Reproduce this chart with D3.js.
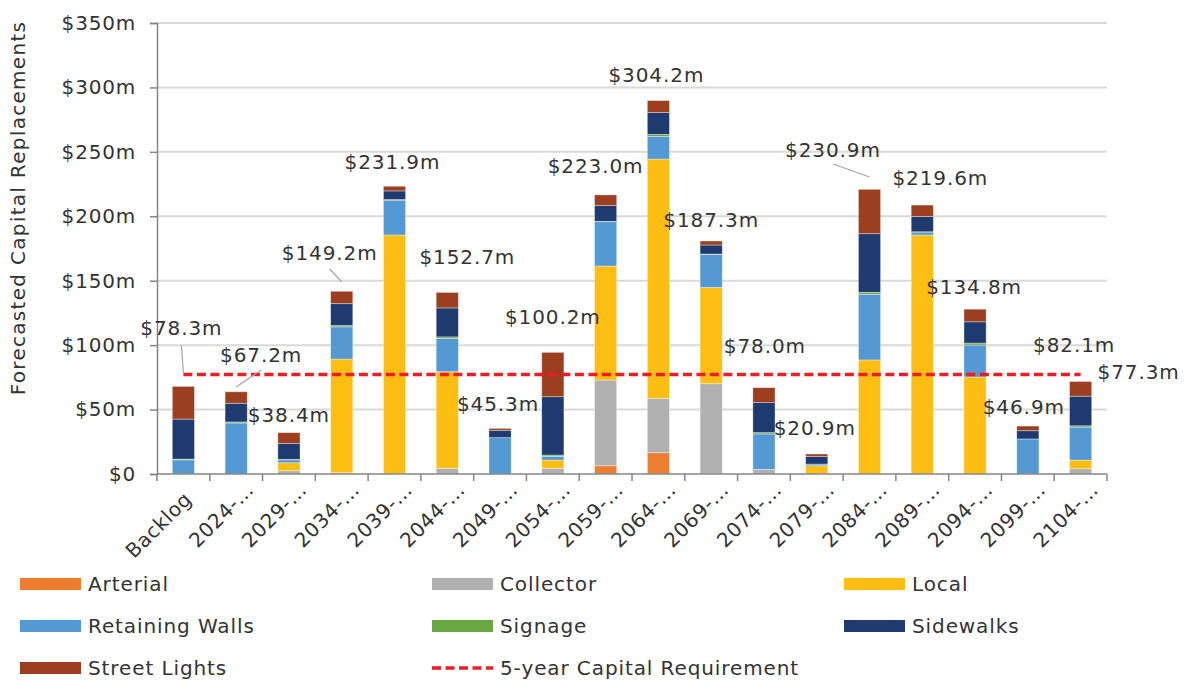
<!DOCTYPE html>
<html>
<head>
<meta charset="utf-8">
<script src="https://cdn.jsdelivr.net/npm/d3@7"></script>
<style>
  body { margin: 0; background: #fff; }
  text { font-family: "DejaVu Sans", Verdana, sans-serif; fill: #333; }
</style>
</head>
<body>
<svg id="chart" width="1187" height="684"></svg>
<script>
// categories (5-year periods)
var categories = ["Backlog", "2024-\u2026", "2029-\u2026", "2034-\u2026", "2039-\u2026", "2044-\u2026",
  "2049-\u2026", "2054-\u2026", "2059-\u2026", "2064-\u2026", "2069-\u2026", "2074-\u2026",
  "2079-\u2026", "2084-\u2026", "2089-\u2026", "2094-\u2026", "2099-\u2026", "2104-\u2026"];

// series values, $m
var arterial     = [0, 0, 0, 0, 0, 0, 0, 0, 6.4, 16.5, 0.5, 0, 0, 0, 0, 0, 0, 0];
var collector    = [0, 0, 2.5, 1, 0, 4.4, 0, 4.4, 66.5, 42.2, 69.6, 3.6, 0, 0, 0, 0, 0, 4.1];
var local        = [0, 0, 6.2, 88.2, 185.5, 75, 0, 6.4, 88.5, 185.7, 74.7, 0, 6.4, 88.5, 185.5, 75.3, 0, 6.7];
var retaining    = [11, 39.6, 2.3, 25, 27, 25.8, 28.2, 2.9, 34.4, 17.6, 25.6, 27.5, 1.3, 51, 2.3, 24.8, 27.2, 25.6];
var signage      = [0.6, 0.8, 0.4, 1, 0.5, 1.2, 0, 1, 0.3, 1.5, 0.3, 1, 0, 1.5, 0.2, 1.5, 0, 1];
var sidewalks    = [31, 14.5, 12.2, 17, 6.7, 22.5, 5.7, 45.3, 12.2, 17, 7, 23.3, 6, 45.5, 11.9, 16.5, 6.4, 23];
var streetLights = [25.4, 8.9, 8.5, 9.6, 3.6, 12, 1.5, 34.4, 8.3, 9.3, 3.1, 11.6, 1.8, 34.4, 8.8, 9.8, 3.6, 11.4];

// 5-year capital requirement
var requirement = 77.3;

// total labels shown above the bars
var totalLabels = [78.3, 67.2, 38.4, 149.2, 231.9, 152.7, 45.3, 100.2, 223.0, 304.2, 187.3, 78.0, 20.9, 230.9, 219.6, 134.8, 46.9, 82.1];

var yTicks = [0, 50, 100, 150, 200, 250, 300, 350];

var seriesNames  = ["Arterial", "Collector", "Local", "Retaining Walls", "Signage", "Sidewalks", "Street Lights"];
var seriesColors = ["#ED7D31", "#B0B0B0", "#FDBE14", "#5599D4", "#6AA843", "#1F3A6E", "#9B3F20"];
var seriesData   = [arterial, collector, local, retaining, signage, sidewalks, streetLights];

// label placement: [dx px from category centre, y in $m]
var labelPos = [[-2, 113.3], [25, 92.3], [0, 45.8], [-12, 171.5], [-2, 242.1], [20, 168.4],
  [-2, 54.3], [0, 122.2], [-10, 239], [-2, 309.6], [0, 197.1], [1, 99.3],
  [-2, 35.7], [-36.5, 251.8], [18, 229.7], [-1, 145.1], [-4, 52], [-6.5, 100.5]];
// leader lines: [category, dx1, v1, dx2, v2]
var leaders = [[0, -2, 100.1, 0, 78.4], [1, 25, 80.7, 0, 67.5], [3, -12, 159.1, 0, 149], [13, -36.5, 240.6, 0, 230.5]];

var margin = {top: 23, right: 80, bottom: 210, left: 157};
var svg = d3.select("#chart");
var width = +svg.attr("width") - margin.left - margin.right;
var height = +svg.attr("height") - margin.top - margin.bottom;
var g = svg.append("g").attr("transform", "translate(" + margin.left + "," + margin.top + ")");

var x = d3.scaleBand().domain(categories).range([0, width]).paddingInner(0.58).paddingOuter(0.29);
var xb = d3.scaleBand().domain(categories).range([0, width]);
var y = d3.scaleLinear().domain([0, 350]).range([height, 0]);

function cx(i) { return xb(categories[i]) + xb.bandwidth() / 2; }

// gridlines
g.selectAll(".grid").data(yTicks.slice(1)).enter().append("line")
  .attr("x1", 0).attr("x2", width)
  .attr("y1", function(d) { return y(d); }).attr("y2", function(d) { return y(d); })
  .attr("stroke", "#D9D9D9").attr("stroke-width", 2);

// stacked bars
var rows = categories.map(function(c, i) {
  var r = {cat: c};
  seriesNames.forEach(function(s, k) { r[s] = seriesData[k][i]; });
  return r;
});
var stacked = d3.stack().keys(seriesNames)(rows);

g.selectAll(".series").data(stacked).enter().append("g")
  .attr("fill", function(d, k) { return seriesColors[k]; })
  .selectAll("rect").data(function(d) { return d; }).enter().append("rect")
  .attr("x", function(d) { return x(d.data.cat); })
  .attr("width", x.bandwidth())
  .attr("y", function(d) { return y(d[1]); })
  .attr("height", function(d) { return Math.max(0, y(d[0]) - y(d[1])); })
  .attr("stroke", "#fff").attr("stroke-opacity", 0.45).attr("stroke-width", 0.8);

// y axis
var yAxis = d3.axisLeft(y).tickValues(yTicks).tickSize(7).tickPadding(14)
  .tickFormat(function(d) { return d === 0 ? "$0" : "$" + d + "m"; });
var ya = g.append("g").call(yAxis);
ya.select(".domain").attr("stroke", "#868686").attr("stroke-width", 1.5);
ya.selectAll(".tick line").attr("stroke", "#868686").attr("stroke-width", 1.5);
ya.selectAll(".tick text").style("font-size", "20px").style("letter-spacing", "0.8px").attr("fill", "#333");

// x axis (ticks at category boundaries)
var xa = g.append("g").attr("transform", "translate(0," + height + ")");
xa.append("line").attr("x1", 0).attr("x2", width).attr("stroke", "#868686").attr("stroke-width", 1.5);
xa.selectAll(".xt").data(d3.range(categories.length + 1)).enter().append("line")
  .attr("x1", function(i) { return i * xb.step(); }).attr("x2", function(i) { return i * xb.step(); })
  .attr("y1", 0).attr("y2", 7).attr("stroke", "#868686").attr("stroke-width", 1.5);
xa.selectAll(".xl").data(categories).enter().append("text")
  .attr("transform", function(d, i) {
    // full (untruncated) labels sit a little further back along the text direction
    var back = d.indexOf("\u2026") < 0 ? 9.5 : 0;
    return "translate(" + (cx(i) + 19 - back) + "," + (17 + back) + ") rotate(-45)";
  })
  .attr("text-anchor", "end")
  .style("font-size", "20px").style("letter-spacing", "0.6px")
  .text(function(d) { return d; });

// 5-year requirement line
g.append("line")
  .attr("x1", cx(0)).attr("x2", cx(categories.length - 1))
  .attr("y1", y(requirement)).attr("y2", y(requirement))
  .attr("stroke", "#EE1C25").attr("stroke-width", 3.5).attr("stroke-dasharray", "9,4.5");

// leader lines
g.selectAll(".leader").data(leaders).enter().append("line")
  .attr("x1", function(d) { return cx(d[0]) + d[1]; }).attr("y1", function(d) { return y(d[2]); })
  .attr("x2", function(d) { return cx(d[0]) + d[3]; }).attr("y2", function(d) { return y(d[4]); })
  .attr("stroke", "#A6A6A6").attr("stroke-width", 1.2);

// total labels
g.selectAll(".lbl").data(totalLabels).enter().append("text")
  .attr("x", function(d, i) { return cx(i) + labelPos[i][0]; })
  .attr("y", function(d, i) { return y(labelPos[i][1]); })
  .attr("dy", "0.36em").attr("text-anchor", "middle")
  .style("font-size", "20px").style("letter-spacing", "0.9px")
  .text(function(d) { return "$" + d.toFixed(1) + "m"; });

// requirement label
g.append("text")
  .attr("x", cx(categories.length - 1) + 17).attr("y", y(79.2)).attr("dy", "0.36em")
  .style("font-size", "20px").style("letter-spacing", "0.9px")
  .text("$" + requirement.toFixed(1) + "m");

// y axis title
svg.append("text")
  .attr("transform", "translate(25,208) rotate(-90)")
  .attr("text-anchor", "middle")
  .style("font-size", "20px").style("letter-spacing", "1.3px")
  .text("Forecasted Capital Replacements");

// legend
var legendItems = seriesNames.map(function(s, k) { return {name: s, color: seriesColors[k], dash: false}; });
legendItems.push({name: "5-year Capital Requirement", color: "#EE1C25", dash: true});
var colX = [20, 432, 844];
var leg = svg.selectAll(".leg").data(legendItems).enter().append("g")
  .attr("transform", function(d, i) { return "translate(" + colX[i % 3] + "," + (584 + Math.floor(i / 3) * 42) + ")"; });
leg.filter(function(d) { return !d.dash; }).append("rect")
  .attr("x", 0).attr("y", -6).attr("width", 61).attr("height", 12)
  .attr("fill", function(d) { return d.color; });
leg.filter(function(d) { return d.dash; }).append("line")
  .attr("x1", 0).attr("x2", 61).attr("y1", 0).attr("y2", 0)
  .attr("stroke", function(d) { return d.color; }).attr("stroke-width", 3.5).attr("stroke-dasharray", "9,4.5");
leg.append("text")
  .attr("x", 68).attr("dy", "0.36em")
  .style("font-size", "20px").style("letter-spacing", "0.9px")
  .text(function(d) { return d.name; });
</script>
</body>
</html>
